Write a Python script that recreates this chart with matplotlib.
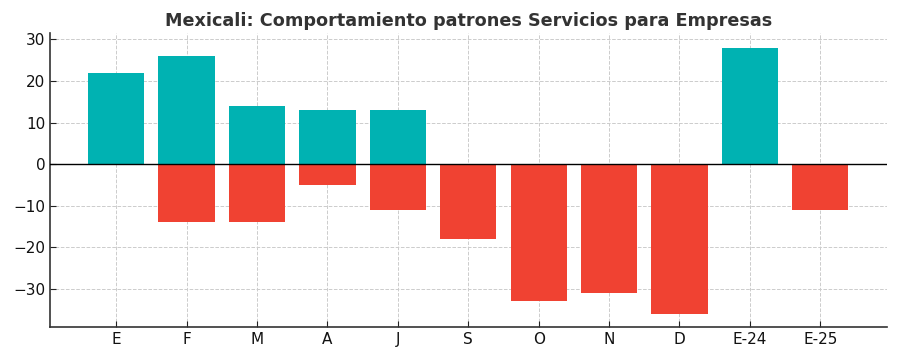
import matplotlib
matplotlib.use("Agg")
import matplotlib.pyplot as plt

categories = ["E", "F", "M", "A", "J", "S", "O", "N", "D", "E-24", "E-25"]
altas = [22, 26, 14, 13, 13, 0, 0, 0, 0, 28, 0]
bajas = [0, -14, -14, -5, -11, -18, -33, -31, -36, 0, -11]

fig, ax = plt.subplots(figsize=(9, 3.6), dpi=100)
x = list(range(len(categories)))
ax.bar(x, altas, width=0.8, color="#00B2B2", zorder=2)
ax.bar(x, bajas, width=0.8, color="#F04232", zorder=2)
ax.axhline(0, color="black", linewidth=1.0, zorder=3)
ax.set_xticks(x)
ax.set_xticklabels(categories)
ax.set_yticks([-30, -20, -10, 0, 10, 20, 30])
ax.set_ylim(-39.1, 31.5)
ax.grid(True, linestyle="--", color="#cccccc", linewidth=0.7, zorder=0)
ax.set_axisbelow(True)
for s in ["top", "right"]:
    ax.spines[s].set_visible(False)
for s in ["left", "bottom"]:
    ax.spines[s].set_color("#333333")
    ax.spines[s].set_linewidth(1.2)
ax.tick_params(labelsize=11, colors="#222222", labelcolor="#111111", length=4, direction="in")
ax.set_title("Mexicali: Comportamiento patrones Servicios para Empresas",
             fontsize=12.7, fontweight="bold", color="#333333", pad=5)
fig.subplots_adjust(left=0.0556, right=0.985, top=0.908, bottom=0.0925)
fig.savefig("out.png")
